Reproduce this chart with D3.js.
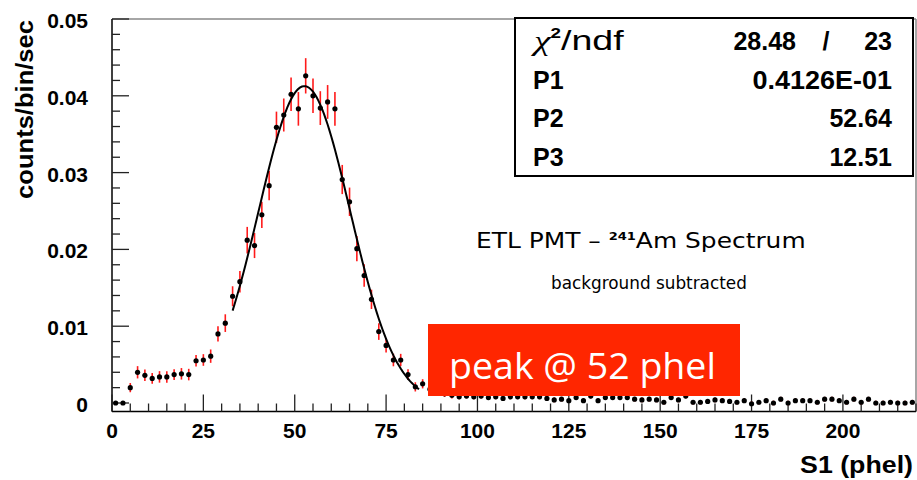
<!DOCTYPE html>
<html><head><meta charset="utf-8">
<script src="https://cdn.jsdelivr.net/npm/d3@7/dist/d3.min.js"></script>
<style>body{margin:0;background:#fff}svg{display:block}</style>
</head><body>
<svg id="c" width="917" height="480"></svg>
<script>
// ---------- data ----------
const binCenters = [1,3,5,7,9,11,13,15,17,19,21,23,25,27,29,31,33,35,37,39,41,43,45,47,49,51,53,55,57,59,
61,63,65,67,69,71,73,75,77,79,81,83,85,87,89,91,93,95,97,99,101,103,105,107,109,111,113,115,117,119,
121,123,125,127,129,131,133,135,137,139,141,143,145,147,149,151,153,155,157,159,161,163,165,167,169,171,173,175,177,179,
181,183,185,187,189,191,193,195,197,199,201,203,205,207,209,211,213,215,217,219];
const counts = [0,0,0.0020,0.0040,0.0036,0.0032,0.0034,0.0034,0.0037,0.0038,0.0037,0.0055,0.0056,0.0061,0.0090,0.0104,0.0139,0.0158,0.0212,0.0205,
0.0245,0.0283,0.0359,0.0375,0.0402,0.0383,0.0426,0.0400,0.0384,0.0392,0.0383,0.0291,0.0262,0.0201,0.0166,0.0135,0.0093,0.0075,0.0056,0.0056,
0.0037,0.0021,0.0025,0.0018,0.0015,0.0012,0.0010,0.0008,0.0009,0.0008,0.0009,0.0007,0.0008,0.0006,0.0008,0.0008,0.0008,0.0008,0.0008,0.0006,
0.0004,0.0005,0.0003,0.0007,0.0003,0.0009,0.0003,0.0007,0.0007,0.0007,0.0007,0.0005,0.0004,0.0005,0.0004,0.0001,0.0007,0.0004,0.0009,0.0001,
0.0001,0.0002,0.0004,0.0003,0.0002,0.0001,0.0003,-0.0001,0.0001,0.0003,0.0000,0.0005,0.0000,0.0003,0.0003,0.0003,0.0001,0.0005,0.0005,0.0003,
0.0001,0.0005,0.0001,0.0005,0.0000,0.0000,0.0001,0.0000,0.0000,0.0001];
const errors = [0,0,0.0006,0.0008,0.00075,0.0007,0.00075,0.00075,0.0007,0.00075,0.00075,0.00075,0.00076,0.00087,0.0010,0.00115,0.0013,0.0014,0.00173,0.00163,
0.0017,0.0019,0.00204,0.00215,0.00219,0.00219,0.0023,0.00224,0.0022,0.0022,0.0022,0.0019,0.00185,0.00163,0.00147,0.00126,0.00108,0.00094,0.00082,0.0008,
0.0007,0.0006,0.0006,0.0005,0.0005,0.0004,0.0004,0.0003,0.0003,0.0003,0.0003,0.0003,0.0003,0.0003,0.0003,0.0003,0.0003,0.0003,0.0003,0.0003,
0.0003,0.0003,0.0003,0.0003,0.0003,0.0003,0.0003,0.0003,0.0003,0.0003,0.0003,0.0003,0.0003,0.0003,0.0003,0.0003,0.0003,0.0003,0.0003,0.0003,
0.0003,0.0003,0.0003,0.0003,0.0003,0.0003,0.0003,0.0003,0.0003,0.0003,0.0003,0.0003,0.0003,0.0003,0.0003,0.0003,0.0003,0.0003,0.0003,0.0003,
0.0003,0.0003,0.0003,0.0003,0.0003,0.0003,0.0003,0.0003,0.0003,0.0003];
const xTicks = [0,25,50,75,100,125,150,175,200];
const yTicks = [0,0.01,0.02,0.03,0.04,0.05];
const yTickLabels = ["0","0.01","0.02","0.03","0.04","0.05"];
const fitP1 = 0.04126, fitP2 = 52.64, fitP3 = 12.51;
const fitRange = [33, 84];
const statLabels = ["P1","P2","P3"];
const statValues = ["0.4126E-01","52.64","12.51"];
const chi2 = "28.48", ndf = "23";

// ---------- layout ----------
const svg = d3.select("#c");
const L = 112, R = 916, T = 19, B = 411.5;
const x = d3.scaleLinear().domain([0,220]).range([L,R]);
const y = d3.scaleLinear().domain([0,0.05]).range([403,19]);
const SANS = "'Liberation Sans', Arial, Helvetica, sans-serif";

function txt(parent, px, py, str, o) {
  const g = parent.append("g").attr("transform", `translate(${px},${py})${o.rot?` rotate(${o.rot})`:""}`);
  const t = g.append("text").attr("x",0).attr("y",0)
    .attr("font-family", o.family || SANS).attr("font-size", o.size)
    .attr("font-weight", o.weight || "normal").attr("text-anchor", o.anchor || "start")
    .attr("fill", o.fill || "#000");
  if (str !== null) t.text(str);
  if (o.build) o.build(t);
  if (o.width) { const w = t.node().getBBox().width; t.attr("transform", `scale(${o.width/w},1)`); }
  else if (o.sx) t.attr("transform", `scale(${o.sx},1)`);
  return t;
}

// frame
svg.append("line").attr("x1",L).attr("x2",R).attr("y1",T).attr("y2",T).attr("stroke","#888").attr("stroke-width",1.5);
svg.append("line").attr("x1",R).attr("x2",R).attr("y1",T).attr("y2",B).attr("stroke","#888").attr("stroke-width",1.5);
svg.append("line").attr("x1",L).attr("x2",L).attr("y1",T).attr("y2",B).attr("stroke","#000").attr("stroke-width",1.5);
svg.append("line").attr("x1",L).attr("x2",R).attr("y1",B).attr("y2",B).attr("stroke","#000").attr("stroke-width",1.5);

// y ticks (major + minor)
const yMinor = d3.range(0, 0.0501, 0.002);
svg.append("g").selectAll("line").data(yMinor).join("line")
  .attr("x1",L).attr("x2",d => (Math.abs(Math.round(d*100)-d*100) < 1e-6) ? L+17 : L+8)
  .attr("y1",d=>y(d)).attr("y2",d=>y(d)).attr("stroke","#222").attr("stroke-width",1.3);
yTicks.forEach((v,i) => txt(svg, 88, y(v)+9, yTickLabels[i], {size:20, weight:"bold", anchor:"end", sx:1.05}));

// x ticks
const xMinor = d3.range(0, 221, 5);
svg.append("g").selectAll("line").data(xMinor).join("line")
  .attr("x1",d=>x(d)).attr("x2",d=>x(d)).attr("y1",B)
  .attr("y2",d => d % 25 === 0 ? B-17 : B-8).attr("stroke","#222").attr("stroke-width",1.3);
xTicks.forEach(v => txt(svg, x(v), 438, String(v), {size:20, weight:"bold", anchor:"middle", sx:1.05}));

// axis titles
txt(svg, 913, 473, "S1 (phel)", {size:24, weight:"bold", anchor:"end", width:113});
txt(svg, 33, 20, "counts/bin/sec", {size:24, weight:"bold", anchor:"end", rot:-90, width:179});

// error bars
const pts = binCenters.map((c,i) => ({c, v:counts[i], e:errors[i]}));
svg.append("g").selectAll("line").data(pts.filter(d=>d.e>0)).join("line")
  .attr("x1",d=>x(d.c)).attr("x2",d=>x(d.c))
  .attr("y1",d=>y(d.v+d.e)).attr("y2",d=>y(d.v-d.e))
  .attr("stroke","#ff1a1a").attr("stroke-width",1.6);
// markers
svg.append("g").selectAll("circle").data(pts).join("circle")
  .attr("cx",d=>x(d.c)).attr("cy",d=>y(d.v)).attr("r",2.6).attr("fill","#000");

// fit curve (gaussian with fitted parameters)
const fitX = d3.range(fitRange[0], fitRange[1]+0.001, 0.5);
const gauss = t => fitP1*Math.exp(-0.5*Math.pow((t-fitP2)/fitP3,2));
svg.append("path").datum(fitX)
  .attr("d", d3.line().x(d=>x(d)).y(d=>y(gauss(d))))
  .attr("fill","none").attr("stroke","#000").attr("stroke-width",2);

// stats box
svg.append("rect").attr("x",515).attr("y",18).attr("width",398).attr("height",158)
  .attr("fill","#fff").attr("stroke","#000").attr("stroke-width",2);
const rowY = [50, 88.5, 127, 165.5];
txt(svg, 534, rowY[0], null, {size:28, width:94, build: t => {
  t.append("tspan").attr("font-family","'Liberation Serif', serif").attr("font-style","italic").text("χ");
  t.append("tspan").attr("font-size",14).attr("font-weight","bold").attr("dy",-12).text("2");
  t.append("tspan").attr("dy",12).text("/ndf");
}});
const SZ = 25;
txt(svg, 796, rowY[0], chi2, {size:SZ, weight:"bold", anchor:"end"});
txt(svg, 826, rowY[0], "/", {size:SZ, weight:"bold", anchor:"middle"});
txt(svg, 892, rowY[0], ndf, {size:SZ, weight:"bold", anchor:"end"});
statLabels.forEach((s,i) => {
  txt(svg, 533, rowY[i+1], s, {size:SZ, weight:"bold"});
  txt(svg, 892, rowY[i+1], statValues[i], {size:SZ, weight:"bold", anchor:"end", sx: i === 0 ? 1.08 : 1});
});

// annotations
txt(svg, 476, 248.3, null, {size:21, family:"'DejaVu Sans', sans-serif", width:330, build: t => {
  t.append("tspan").text("ETL PMT \u2013 ");
  t.append("tspan").attr("font-size",11).attr("font-weight","bold").attr("dy",-8).text("241");
  t.append("tspan").attr("dy",8).text("Am Spectrum");
}});
txt(svg, 551, 289, "background subtracted", {size:18, family:"'DejaVu Sans', sans-serif", width:196});

// red label
svg.append("rect").attr("x",428).attr("y",324).attr("width",312).attr("height",72).attr("fill","#ff2600");
txt(svg, 449, 378.6, "peak @ 52 phel", {size:36, family:"'Open Sans', 'Noto Sans', sans-serif", fill:"#fff", width:267});
</script>
</body></html>
